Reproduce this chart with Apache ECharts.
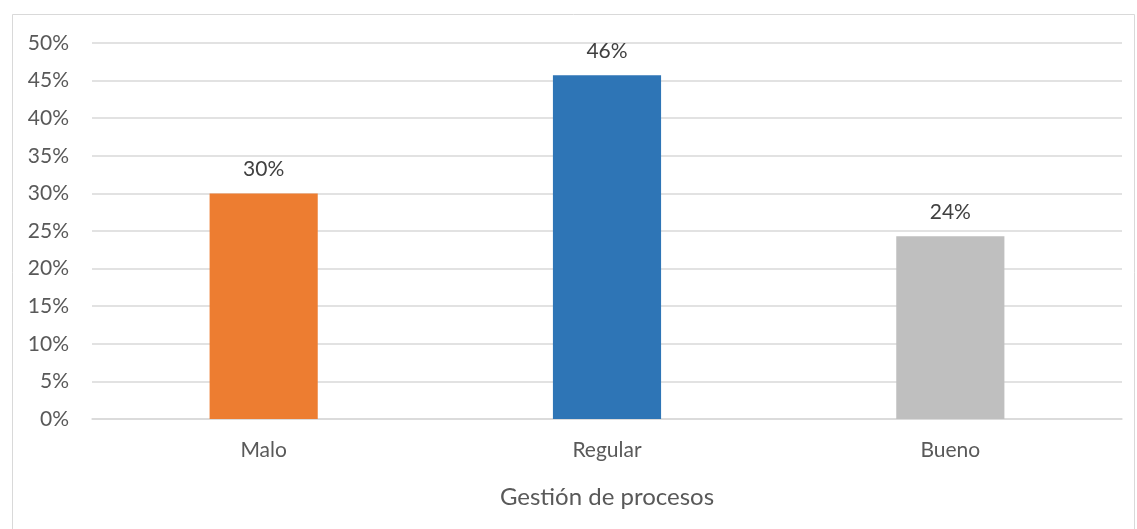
<!DOCTYPE html>
<html>
<head>
<meta charset="utf-8">
<script src="https://cdn.jsdelivr.net/npm/echarts@6/dist/echarts.min.js"></script>
<style>
  html, body { margin: 0; padding: 0; background: #fff; }
  #chart { width: 1137px; height: 529px; }
</style>
</head>
<body>
<div id="chart"></div>
<script>
// Gestión de procesos: share of responses per rating
const categories = ['Malo', 'Regular', 'Bueno'];
const shares = [0.30, 0.457, 0.243];
const barColors = ['#ED7D31', '#2E75B6', '#BFBFBF'];
const axisTitle = 'Gestión de procesos';

const textColor = '#595959';
const fontFamily = 'Lato, "Open Sans", sans-serif';

const chart = echarts.init(document.getElementById('chart'), null, { renderer: 'canvas' });

chart.setOption({
  animation: false,
  backgroundColor: '#fff',
  graphic: [{
    type: 'rect',
    left: 10, top: 12,
    shape: { width: 1122, height: 530 },
    style: { fill: 'none', stroke: '#D9D9D9', lineWidth: 1 },
    silent: true
  }],
  grid: { left: 92, right: 15, top: 43, bottom: 110, containLabel: false },
  xAxis: {
    type: 'category',
    data: categories,
    name: axisTitle,
    nameLocation: 'middle',
    nameGap: 66,
    nameTextStyle: { color: textColor, fontSize: 24, fontFamily: fontFamily },
    axisLine: { show: true, lineStyle: { color: '#D9D9D9', width: 1.5 } },
    axisTick: { show: false },
    axisLabel: { color: textColor, fontSize: 21, fontFamily: fontFamily, margin: 21 }
  },
  yAxis: {
    type: 'value',
    min: 0, max: 0.5, interval: 0.05,
    axisLine: { show: false },
    axisTick: { show: false },
    splitLine: { lineStyle: { color: '#D9D9D9', width: 1.5 } },
    axisLabel: {
      color: textColor, fontSize: 21, fontFamily: fontFamily, margin: 23,
      formatter: v => Math.round(v * 100) + '%'
    }
  },
  series: [{
    type: 'bar',
    barWidth: '31.5%',
    data: shares.map((v, i) => ({ value: v, itemStyle: { color: barColors[i] } })),
    label: {
      show: true,
      position: 'top',
      distance: 14,
      color: '#404040',
      fontSize: 21,
      fontFamily: fontFamily,
      formatter: p => Math.round(p.value * 100) + '%'
    }
  }]
});
</script>
</body>
</html>
